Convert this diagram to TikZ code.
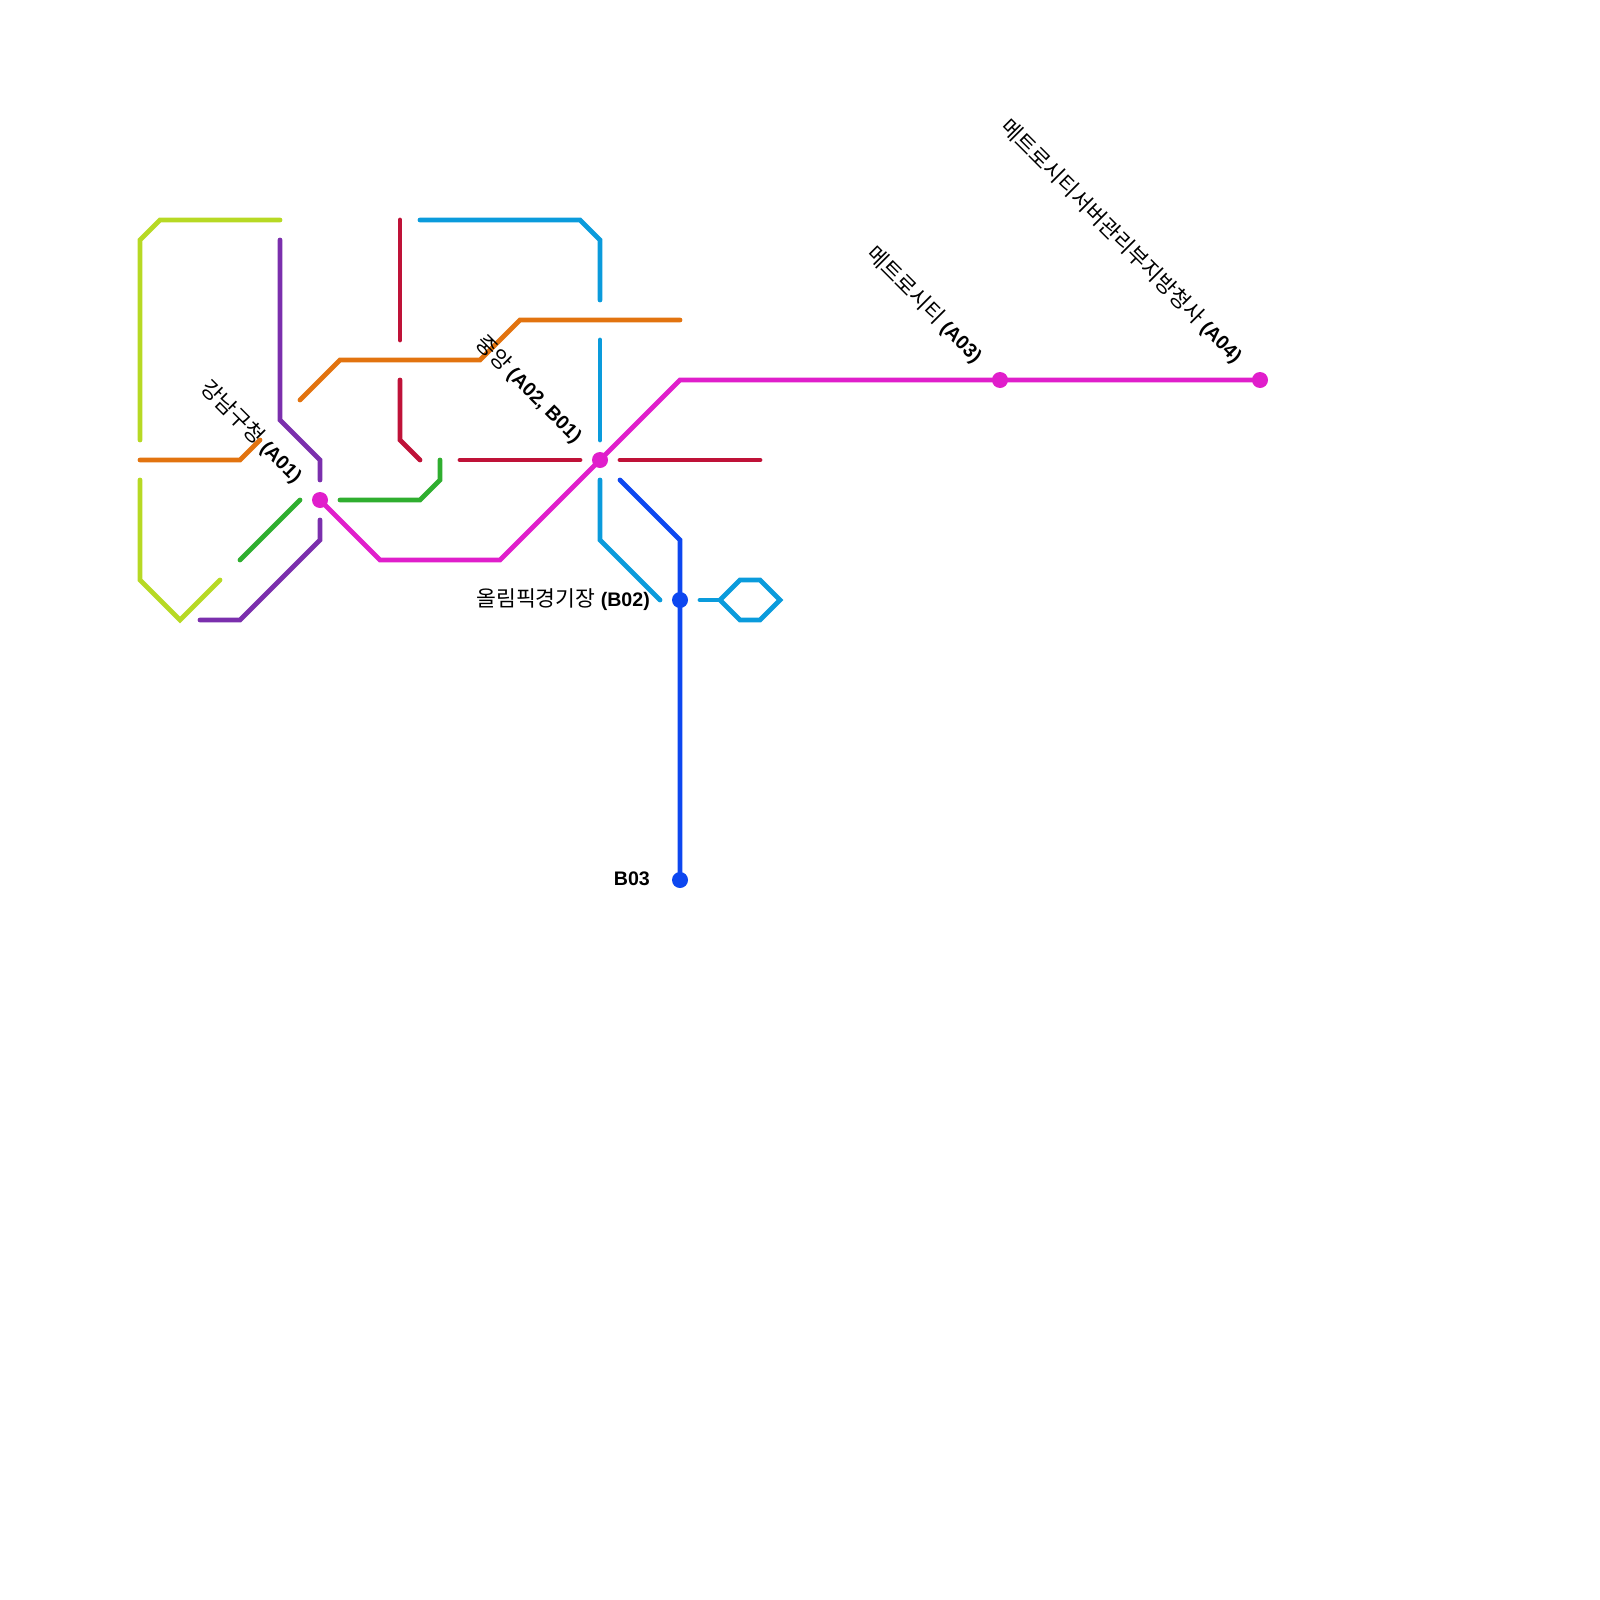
\documentclass[tikz,border=0pt]{standalone}
\usepackage{fontspec}
\usepackage{xcolor}
\usepackage{tikz}
\usetikzlibrary{calc}
\setmainfont{Liberation Sans}
\newfontfamily\korfont{Noto Sans CJK KR}[Scale=1.1]
\definecolor{lnlime}{HTML}{B7D924}
\definecolor{lnorange}{HTML}{E2730F}
\definecolor{lnpurple}{HTML}{7B2FAD}
\definecolor{lngreen}{HTML}{2FAE2F}
\definecolor{lncrimson}{HTML}{BF1238}
\definecolor{lncyan}{HTML}{0A9BDC}
\definecolor{lnmagenta}{HTML}{E01ECB}
\definecolor{lnblue}{HTML}{0D47F0}

\begin{document}
\begin{tikzpicture}[
  x=1pt, y=-1pt,
  font=\fontsize{19.6}{22}\selectfont,
  lne/.style={line width=4.8pt, line cap=round, line join=miter},
  stn/.style={circle, fill=#1, inner sep=0pt, minimum size=16pt},
  lbl/.style={anchor=east, inner sep=0pt, text=black},
  dlbl/.style={lbl, rotate=-45}
]
\useasboundingbox (0,0) rectangle (1600,1600);

% stations
\node[stn=lnmagenta] (a01) at (320,500) {};
\node[stn=lnmagenta] (a02) at (600,460) {};
\node[stn=lnmagenta] (a03) at (1000,380) {};
\node[stn=lnmagenta] (a04) at (1260,380) {};
\node[stn=lnblue] (b02) at (680,600) {};
\node[stn=lnblue] (b03) at (680,880) {};

% lime
\coordinate (l1) at (280,220); \coordinate (l2) at (160,220);
\coordinate (l3) at (140,240); \coordinate (l4) at (140,440);
\coordinate (l5) at (140,480); \coordinate (l6) at (140,580);
\coordinate (l7) at (180,620); \coordinate (l8) at (220,580);
\draw[lne, lnlime] (l1)--(l2)--(l3)--(l4);
\draw[lne, lnlime] (l5)--(l6)--(l7)--(l8);

% purple
\coordinate (p1) at (280,240); \coordinate (p2) at (280,420);
\coordinate (p3) at (320,460); \coordinate (p4) at (320,480);
\coordinate (p5) at (320,520); \coordinate (p6) at (320,540);
\coordinate (p7) at (240,620); \coordinate (p8) at (200,620);
\draw[lne, lnpurple] (p1)--(p2)--(p3)--(p4);
\draw[lne, lnpurple] (p5)--(p6)--(p7)--(p8);

% green
\coordinate (g1) at (240,560); \coordinate (g2) at (300,500);
\coordinate (g3) at (340,500); \coordinate (g4) at (420,500);
\coordinate (g5) at (440,480); \coordinate (g6) at (440,460);
\draw[lne, lngreen] (g1)--(g2);
\draw[lne, lngreen] (g3)--(g4)--(g5)--(g6);

% crimson
\coordinate (r1) at (400,220); \coordinate (r2) at (400,340);
\coordinate (r3) at (400,380); \coordinate (r4) at (400,440);
\coordinate (r5) at (420,460); \coordinate (r6) at (460,460);
\coordinate (r7) at (580,460); \coordinate (r8) at (620,460);
\coordinate (r9) at (760,460);
\draw[lne, lncrimson] (r1)--(r2);
\draw[lne, lncrimson] (r3)--(r4)--(r5);
\draw[lne, lncrimson] (r6)--(r7);
\draw[lne, lncrimson] (r8)--(r9);

% orange
\coordinate (o1) at (140,460); \coordinate (o2) at (240,460);
\coordinate (o3) at (260,440); \coordinate (o4) at (300,400);
\coordinate (o5) at (340,360); \coordinate (o6) at (480,360);
\coordinate (o7) at (520,320); \coordinate (o8) at (680,320);
\draw[lne, lnorange] (o1)--(o2)--(o3);
\draw[lne, lnorange] (o4)--(o5)--(o6)--(o7)--(o8);

% cyan
\coordinate (c1) at (420,220); \coordinate (c2) at (580,220);
\coordinate (c3) at (600,240); \coordinate (c4) at (600,300);
\coordinate (c5) at (600,340); \coordinate (c6) at (600,440);
\coordinate (c7) at (600,480); \coordinate (c8) at (600,540);
\coordinate (c9) at (660,600); \coordinate (c10) at (700,600);
\coordinate (c11) at (720,600); \coordinate (c12) at (740,580);
\coordinate (c13) at (760,580); \coordinate (c14) at (780,600);
\coordinate (c15) at (760,620); \coordinate (c16) at (740,620);
\draw[lne, lncyan] (c1)--(c2)--(c3)--(c4);
\draw[lne, lncyan] (c5)--(c6);
\draw[lne, lncyan] (c7)--(c8)--(c9);
\draw[lne, lncyan] (c10)--(c11);
\draw[lne, lncyan] (c11)--(c12)--(c13)--(c14)--(c15)--(c16)--cycle;

% magenta
\coordinate (m1) at (380,560); \coordinate (m2) at (500,560);
\coordinate (m3) at (680,380);
\draw[lne, lnmagenta] (a01.center)--(m1)--(m2)--(a02.center)--(m3)--(a03.center)--(a04.center);

% blue
\coordinate (b1) at (620,480); \coordinate (b2) at (680,540);
\draw[lne, lnblue] (b1)--(b2)--(b02.center)--(b03.center);

% labels
\node[dlbl] (ta01) at ($(a01)+(-21,-21)$) {{\korfont 강남구청} \textbf{(A01)}};
\node[dlbl] (ta02) at ($(a02)+(-21,-21)$) {{\korfont 중앙} \textbf{(A02, B01)}};
\node[dlbl] (ta03) at ($(a03)+(-21,-21)$) {{\korfont 메트로시티} \textbf{(A03)}};
\node[dlbl] (ta04) at ($(a04)+(-21,-21)$) {{\korfont 메트로시티서버관리부지방청사} \textbf{(A04)}};
\node[lbl] (tb02) at ($(b02)+(-30,0)$) {{\korfont 올림픽경기장} \textbf{(B02)}};
\node[lbl] (tb03) at ($(b03)+(-30,-1)$) {\textbf{B03}};
\end{tikzpicture}
\end{document}
